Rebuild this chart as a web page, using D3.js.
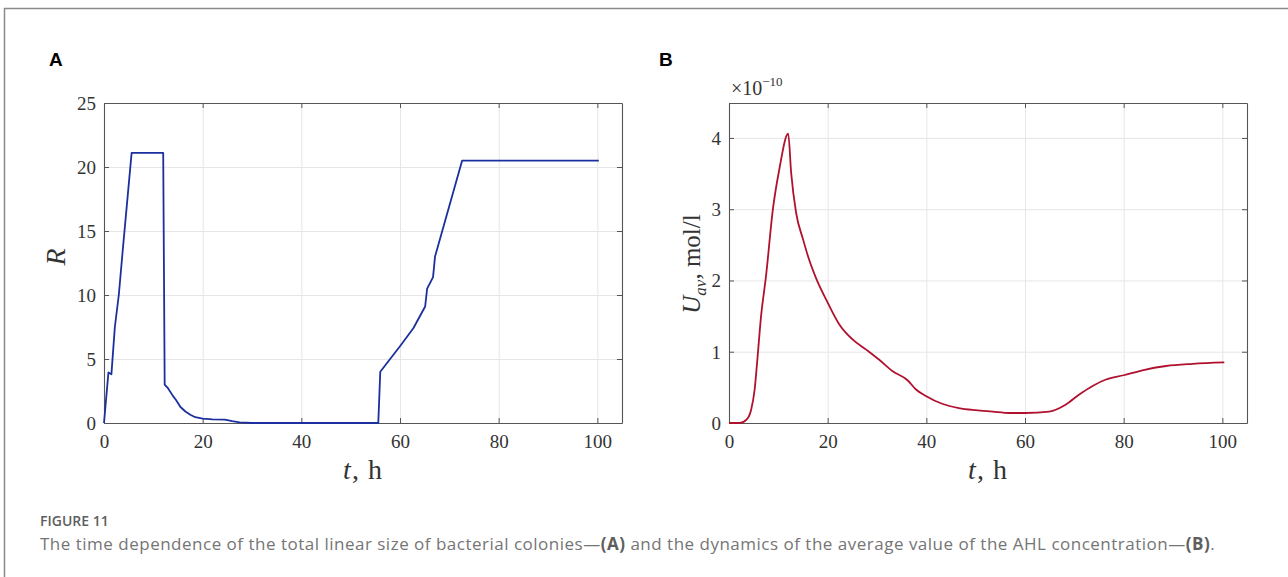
<!DOCTYPE html>
<html>
<head>
<meta charset="utf-8">
<script src="https://cdn.jsdelivr.net/npm/d3@7"></script>
<style>
  body { margin: 0; background: #fff; }
  svg { display: block; }
</style>
</head>
<body>
<svg id="fig" width="1288" height="577"></svg>
<script>
// panel A: total linear size of colonies R(t)
const tA = [0, 0.9, 1.5, 2.2, 3.0, 3.8, 5.6, 12.0, 12.3, 13.0, 14.0, 14.6, 15.5, 16.5, 17.5, 18.5, 20, 22, 24.5, 26, 27.5, 30, 55.6, 56.0, 58, 60, 62.7, 65.1, 65.5, 66.7, 67.1, 72.6, 100.3];
const rA = [0, 3.95, 3.8, 7.5, 10, 13.5, 21.1, 21.1, 3.0, 2.7, 2.1, 1.8, 1.25, 0.9, 0.65, 0.45, 0.34, 0.28, 0.27, 0.15, 0.05, 0, 0, 4.0, 5.0, 6.0, 7.4, 9.1, 10.5, 11.4, 13.0, 20.5, 20.5];

// panel B: average AHL concentration, x1e-10 mol/l
const tB = [0, 2.2, 3.6, 4.5, 5.2, 5.7, 6.5, 7.5, 8.9, 10.2, 12.0, 12.6, 13.6, 15.0, 16.2, 17.6, 20, 22.4, 25.1, 27.8, 30.4, 33.1, 36.2, 37.9, 39.9, 43.2, 46.6, 50, 53.4, 56.8, 60, 64.9, 68.3, 71, 73.7, 76.4, 80, 83.8, 88.6, 94, 100.4];
const uB = [0, 0.0, 0.05, 0.19, 0.47, 0.85, 1.5, 2.06, 3.0, 3.56, 4.06, 3.51, 2.95, 2.58, 2.3, 2.04, 1.69, 1.38, 1.17, 1.03, 0.89, 0.73, 0.60, 0.47, 0.38, 0.27, 0.21, 0.18, 0.16, 0.14, 0.14, 0.16, 0.26, 0.40, 0.52, 0.61, 0.67, 0.74, 0.80, 0.83, 0.85];

const xTicks = [0, 20, 40, 60, 80, 100];
const yTicksA = [0, 5, 10, 15, 20, 25];
const yTicksB = [0, 1, 2, 3, 4];

const svg = d3.select("#fig");
const serif = "'Liberation Serif', 'DejaVu Serif', serif";

// outer frame
svg.append("path")
    .attr("d", "M4.5,577 V8.5 H1288")
    .attr("fill", "none")
    .attr("stroke", "#8a8a8a")
    .attr("stroke-width", 1.5);

function panel(opt) {
    const width = opt.x1 - opt.x0, height = 423 - 103;
    const g = svg.append("g").attr("transform", "translate(" + opt.x0 + ",103)");
    const x = d3.scaleLinear().domain([0, 105]).range([0, width]);
    const y = d3.scaleLinear().domain(opt.yDomain).range([height, 0]);

    // grid
    g.append("g")
        .attr("transform", "translate(0," + height + ")")
        .call(d3.axisBottom(x).tickValues(xTicks.slice(1)).tickSize(-height).tickFormat(""))
        .call(s => s.select(".domain").remove())
        .selectAll("line").attr("stroke", "#e6e6e6");
    g.append("g")
        .call(d3.axisLeft(y).tickValues(opt.yTicks.slice(1)).tickSize(-width).tickFormat(""))
        .call(s => s.select(".domain").remove())
        .selectAll("line").attr("stroke", "#e6e6e6");

    // axes with inward ticks
    const bottom = g.append("g")
        .attr("transform", "translate(0," + height + ")")
        .call(d3.axisBottom(x).tickValues(xTicks).tickSizeInner(-5).tickSizeOuter(0).tickPadding(12).tickFormat(d3.format("d")));
    const left = g.append("g")
        .call(d3.axisLeft(y).tickValues(opt.yTicks).tickSizeInner(-5).tickSizeOuter(0).tickPadding(8).tickFormat(d3.format("d")));
    const top = g.append("g")
        .call(d3.axisTop(x).tickValues(xTicks).tickSizeInner(-5).tickSizeOuter(0).tickFormat(""));
    const right = g.append("g")
        .attr("transform", "translate(" + width + ",0)")
        .call(d3.axisRight(y).tickValues(opt.yTicks).tickSizeInner(-5).tickSizeOuter(0).tickFormat(""));

    [bottom, left, top, right].forEach(a => {
        a.select(".domain").attr("stroke", "#555").attr("stroke-width", 1.1);
        a.selectAll(".tick line").attr("stroke", "#555");
    });
    [bottom, left].forEach(a => a.selectAll("text")
        .attr("font-family", serif).attr("font-size", 19).attr("fill", "#333"));
    left.selectAll("text").attr("dy", "0.34em");

    // curve
    const data = opt.t.map((t, i) => ({t: t, v: opt.v[i]}));
    g.append("path")
        .datum(data)
        .attr("fill", "none")
        .attr("stroke", opt.color)
        .attr("stroke-width", 1.8)
        .attr("stroke-linejoin", "round")
        .attr("d", d3.line().x(d => x(d.t)).y(d => y(d.v)).curve(opt.curve));

    // x label
    const xl = g.append("text")
        .attr("x", width / 2)
        .attr("y", height + 56)
        .attr("text-anchor", "middle")
        .attr("font-family", serif)
        .attr("font-size", 28)
        .attr("letter-spacing", 1)
        .attr("fill", "#333");
    xl.append("tspan").attr("font-style", "italic").text("t");
    xl.append("tspan").text(", h");

    // panel letter
    svg.append("text")
        .attr("x", opt.letterX)
        .attr("y", 66)
        .attr("font-family", "'Liberation Sans', Arial, sans-serif")
        .attr("font-weight", "bold")
        .attr("font-size", 19)
        .attr("fill", "#000")
        .text(opt.letter);
    return g;
}

panel({x0: 104, x1: 622, yDomain: [0, 25], yTicks: yTicksA, t: tA, v: rA,
       color: "#1c2f9e", curve: d3.curveLinear, letter: "A", letterX: 49});

panel({x0: 729, x1: 1247, yDomain: [0, 4.49], yTicks: yTicksB, t: tB, v: uB,
       color: "#b0122e", curve: d3.curveMonotoneX, letter: "B", letterX: 659});

// y labels
svg.append("text")
    .attr("transform", "translate(65,257) rotate(-90)")
    .attr("text-anchor", "middle")
    .attr("font-family", serif)
    .attr("font-style", "italic")
    .attr("font-size", 28)
    .attr("fill", "#333")
    .text("R");

const yb = svg.append("text")
    .attr("transform", "translate(700,264) rotate(-90)")
    .attr("text-anchor", "middle")
    .attr("font-family", serif)
    .attr("font-size", 25)
    .attr("fill", "#333");
yb.append("tspan").attr("font-style", "italic").text("U");
yb.append("tspan").attr("font-style", "italic").attr("font-size", 17).attr("dy", 6).text("av");
yb.append("tspan").attr("dy", -6).text(", mol/l");

// exponent
const ex = svg.append("text")
    .attr("x", 731)
    .attr("y", 95)
    .attr("font-family", serif)
    .attr("font-size", 20)
    .attr("fill", "#333");
ex.append("tspan").text("\u00d710");
ex.append("tspan").attr("font-size", 13).attr("dy", -9).text("\u221210");

// caption
svg.append("text")
    .attr("x", 40)
    .attr("y", 526)
    .attr("font-family", "'Open Sans', sans-serif")
    .attr("font-weight", 600)
    .attr("font-size", 14)
    .attr("fill", "#5e5e5e")
    .text("FIGURE 11");

const cap = svg.append("text")
    .attr("x", 40)
    .attr("y", 550)
    .attr("font-family", "'Open Sans', sans-serif")
    .attr("font-size", 17)
    .attr("letter-spacing", 0.5)
    .attr("fill", "#757575");
cap.append("tspan").text("The time dependence of the total linear size of bacterial colonies\u2014");
cap.append("tspan").attr("font-weight", "bold").attr("fill", "#5e5e5e").text("(A)");
cap.append("tspan").text(" and the dynamics of the average value of the AHL concentration\u2014");
cap.append("tspan").attr("font-weight", "bold").attr("fill", "#5e5e5e").text("(B)");
cap.append("tspan").text(".");
</script>
</body>
</html>
